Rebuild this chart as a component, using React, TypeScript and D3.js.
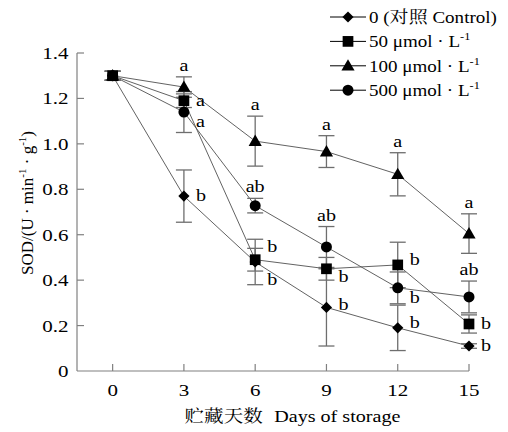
import React from "react";
import * as d3 from "d3";

const days = [0, 3, 6, 9, 12, 15];
const seriesNames = ["0 (对照 Control)", "50 μmol · L", "100 μmol · L", "500 μmol · L"];
const seriesSup = ["", "-1", "-1", "-1"];
const controlVals = [1.3, 0.77, 0.48, 0.28, 0.19, 0.11];
const controlErr = [0.02, 0.115, 0.1, 0.17, 0.1, 0.01];
const s50Vals = [1.3, 1.19, 0.49, 0.45, 0.467, 0.207];
const s50Err = [0.02, 0.03, 0.05, 0.05, 0.1, 0.04];
const s100Vals = [1.3, 1.25, 1.012, 0.966, 0.866, 0.605];
const s100Err = [0.02, 0.045, 0.11, 0.07, 0.095, 0.087];
const s500Vals = [1.3, 1.14, 0.728, 0.546, 0.366, 0.326];
const s500Err = [0.02, 0.09, 0.032, 0.09, 0.07, 0.07];
const controlLetters = ["", "b", "b", "b", "b", "b"];
const s50Letters = ["", "a", "b", "b", "b", "b"];
const s100Letters = ["", "a", "a", "a", "a", "a"];
const s500Letters = ["", "a", "ab", "ab", "b", "ab"];
const yTicks = [0, 0.2, 0.4, 0.6, 0.8, 1.0, 1.2, 1.4];
const yTickLabels = ["0", "0.2", "0.4", "0.6", "0.8", "1.0", "1.2", "1.4"];

// layout: label placement ("above" | "right") and vertical nudges
const controlPlace = ["", "right", "right", "right", "right", "right"];
const s50Place = ["", "right", "right", "right", "right", "right"];
const s100Place = ["", "above", "above", "above", "above", "above"];
const s500Place = ["", "right", "above", "above", "right", "above"];
const controlNudge = [0, 0, 18, -2, -5, 0];
const s50Nudge = [0, 0, -13, 8, -5, 0];
const s100Nudge = [0, 0, 0, 0, 0, 0];
const s500Nudge = [0, 10, 0, 0, 10, 0];

const SERIF = "Liberation Serif, serif";
const CJK = "Noto Serif CJK SC, Noto Sans CJK SC, serif";

type Series = {
  vals: number[];
  err: number[];
  letters: string[];
  place: string[];
  nudge: number[];
  marker: string;
};

const series: Series[] = [
  { vals: controlVals, err: controlErr, letters: controlLetters, place: controlPlace, nudge: controlNudge, marker: "diamond" },
  { vals: s50Vals, err: s50Err, letters: s50Letters, place: s50Place, nudge: s50Nudge, marker: "square" },
  { vals: s100Vals, err: s100Err, letters: s100Letters, place: s100Place, nudge: s100Nudge, marker: "triangle" },
  { vals: s500Vals, err: s500Err, letters: s500Letters, place: s500Place, nudge: s500Nudge, marker: "circle" },
];

const symbolType: Record<string, d3.SymbolType> = {
  diamond: d3.symbolDiamond2,
  square: d3.symbolSquare,
  triangle: d3.symbolTriangle,
  circle: d3.symbolCircle,
};
const symbolSize: Record<string, number> = {
  diamond: 80,
  square: 115,
  triangle: 75,
  circle: 95,
};

function Marker({ kind, x, y }: { kind: string; x: number; y: number }) {
  const p = d3.symbol().type(symbolType[kind]).size(symbolSize[kind])();
  const dy = kind === "triangle" ? 1 : 0;
  return <path d={p || ""} transform={`translate(${x},${y + dy})`} fill="#000" />;
}

// horizontally stretched text (reference glyphs are wide)
function HText({
  x,
  y,
  sx,
  size,
  anchor,
  children,
}: {
  x: number;
  y: number;
  sx: number;
  size: number;
  anchor?: string;
  children: React.ReactNode;
}) {
  return (
    <text
      transform={`translate(${x},${y}) scale(${sx},1)`}
      textAnchor={anchor || "start"}
      style={{ fontFamily: SERIF, fontSize: size }}
    >
      {children}
    </text>
  );
}

export default function App() {
  const x = d3.scaleLinear().domain([-1.5, 15]).range([77, 469]);
  const y = d3.scaleLinear().domain([0, 1.4]).range([371, 53]);
  const line = d3
    .line<number>()
    .x((_, i) => x(days[i]))
    .y((v) => y(v));
  const drawOrder = [3, 2, 0, 1];
  const axisColor = "#808080";
  const errColor = "#6e6e6e";

  return (
    <svg
      width={508}
      height={432}
      fontFamily={SERIF}
      style={{ position: "fixed", left: 0, top: 0, background: "#fff" }}
    >
      <rect width={508} height={432} fill="#fff" />
      {/* axes */}
      <line x1={77} x2={77} y1={y(1.4)} y2={y(0)} stroke={axisColor} strokeWidth={1.2} />
      <line x1={77} x2={x(15)} y1={y(0)} y2={y(0)} stroke={axisColor} strokeWidth={1.2} />
      {yTicks.map((t, i) => (
        <g key={"yt" + i}>
          {i > 0 && <line x1={77} x2={84} y1={y(t)} y2={y(t)} stroke={axisColor} strokeWidth={1.2} />}
          <HText x={68.5} y={y(t) + 6} sx={1.2} size={17.5} anchor="end">
            {yTickLabels[i]}
          </HText>
        </g>
      ))}
      {days.map((d) => (
        <g key={"xt" + d}>
          <line x1={x(d)} x2={x(d)} y1={y(0)} y2={y(0) - 7} stroke={axisColor} strokeWidth={1.2} />
          <HText x={x(d)} y={396} sx={1.2} size={17.5} anchor="middle">
            {d}
          </HText>
        </g>
      ))}
      <HText x={292.5} y={422} sx={1.15} size={17.5} anchor="middle">
        <tspan style={{ fontFamily: CJK, fontSize: 17 }}>贮藏天数</tspan>
        <tspan dx={10}>Days of storage</tspan>
      </HText>
      <text
        transform="translate(33,203) rotate(-90)"
        textAnchor="middle"
        style={{ fontFamily: SERIF, fontSize: 17 }}
      >
        SOD/(U · min
        <tspan style={{ fontSize: 11 }} dy={-7}>-1</tspan>
        <tspan dy={7}> · g</tspan>
        <tspan style={{ fontSize: 11 }} dy={-7}>-1</tspan>
        <tspan dy={7}>)</tspan>
      </text>

      {/* connecting lines */}
      {series.map((s, si) => (
        <path key={"l" + si} d={line(s.vals) || ""} fill="none" stroke="#505050" strokeWidth={0.9} />
      ))}
      {/* error bars */}
      {series.map((s, si) =>
        s.vals.map((v, i) => {
          const cx = x(days[i]);
          const y1 = y(v + s.err[i]);
          const y2 = y(v - s.err[i]);
          return (
            <g key={"e" + si + "-" + i} stroke={errColor} strokeWidth={1.3}>
              <line x1={cx} x2={cx} y1={y1} y2={y2} />
              <line x1={cx - 8} x2={cx + 8} y1={y1} y2={y1} />
              <line x1={cx - 8} x2={cx + 8} y1={y2} y2={y2} />
            </g>
          );
        })
      )}
      {/* markers */}
      {drawOrder.map((si) =>
        series[si].vals.map((v, i) => (
          <Marker key={"m" + si + "-" + i} kind={series[si].marker} x={x(days[i])} y={y(v)} />
        ))
      )}
      {/* letters */}
      {series.map((s, si) =>
        s.letters.map((l, i) => {
          if (!l) return null;
          const cx = x(days[i]);
          const cy = y(s.vals[i]);
          if (s.place[i] === "above") {
            return (
              <HText key={"t" + si + "-" + i} x={cx} y={y(s.vals[i] + s.err[i]) - 6 + s.nudge[i]} sx={1.15} size={17.5} anchor="middle">
                {l}
              </HText>
            );
          }
          return (
            <HText key={"t" + si + "-" + i} x={cx + 12} y={cy + 5 + s.nudge[i]} sx={1.15} size={17.5}>
              {l}
            </HText>
          );
        })
      )}

      {/* legend */}
      {series.map((s, si) => {
        const ly = 17 + si * 24.4;
        return (
          <g key={"lg" + si}>
            <line x1={330} x2={366} y1={ly} y2={ly} stroke="#000" strokeWidth={1} />
            <Marker kind={s.marker} x={348} y={ly} />
            <HText x={369} y={ly + 6} sx={1.12} size={17}>
              {si === 0 ? (
                <>
                  0 (<tspan style={{ fontFamily: CJK, fontSize: 17 }}>对照</tspan> Control)
                </>
              ) : (
                <>
                  {seriesNames[si]}
                  <tspan style={{ fontSize: 11 }} dy={-7}>{seriesSup[si]}</tspan>
                </>
              )}
            </HText>
          </g>
        );
      })}
    </svg>
  );
}
